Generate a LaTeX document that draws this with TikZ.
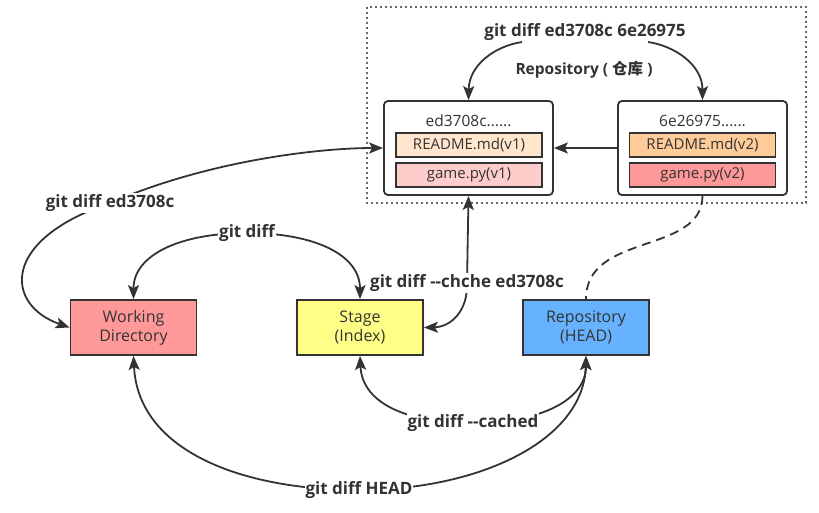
\documentclass[tikz,border=0pt]{standalone}
\usepackage{fontspec}
\setmainfont{Open Sans}
\newfontfamily\cjk{Noto Sans CJK SC}
\usetikzlibrary{arrows.meta}
\definecolor{ink}{HTML}{333333}
\definecolor{frame}{HTML}{666666}
\definecolor{wdfill}{HTML}{FF9999}
\definecolor{stfill}{HTML}{FFFF88}
\definecolor{rpfill}{HTML}{66B2FF}
\definecolor{rdone}{HTML}{FFE6CC}
\definecolor{gmone}{HTML}{FFCCCC}
\definecolor{rdtwo}{HTML}{FFCC99}
\definecolor{gmtwo}{HTML}{FF9999}
\begin{document}
\begin{tikzpicture}[x=1pt,y=-1pt,
  box/.style={draw=ink, line width=1.8pt, minimum width=126pt, minimum height=55pt,
    text=ink, font=\fontsize{16}{19}\selectfont, align=center, inner sep=0pt},
  commit/.style={draw=ink, line width=1.8pt, rounded corners=4pt, fill=white,
    minimum width=169pt, minimum height=94pt, inner sep=0pt},
  file/.style={draw=ink, line width=1.6pt, minimum width=146pt, minimum height=24pt,
    text=ink, font=\fontsize{15}{17}\selectfont, inner sep=0pt},
  ctitle/.style={text=ink, font=\fontsize{15.5}{17}\selectfont, inner sep=0pt},
  lbl/.style={fill=white, text=ink, font=\bfseries\fontsize{17}{19}\selectfont, inner sep=1pt},
  arr/.style={draw=ink, line width=1.8pt, -{Stealth[length=14pt,width=11pt,inset=3pt]}},
  darr/.style={draw=ink, line width=1.8pt, {Stealth[length=14pt,width=11pt,inset=3pt]}-{Stealth[length=14pt,width=11pt,inset=3pt]}},
]
\useasboundingbox (0,0) rectangle (819,512);

% repository frame
\draw[frame, line width=1.8pt, dash pattern=on 1.8pt off 3.2pt] (367,7) rectangle (806,203);

% commits
\node[commit] (c1) at (468.5,148) {};
\node[commit] (c2) at (702.5,148) {};
\node[ctitle] (c1t) at (468.5,121) {ed3708c......};
\node[ctitle] (c2t) at (702.5,121) {6e26975......};
\node[file, fill=rdone] (r1) at (469,145) {README.md(v1)};
\node[file, fill=gmone] (g1) at (469,175) {game.py(v1)};
\node[file, fill=rdtwo] (r2) at (702.5,145) {README.md(v2)};
\node[file, fill=gmtwo] (g2) at (702.5,175) {game.py(v2)};

% main boxes
\node[box, fill=wdfill] (wd) at (133.5,327.5) {Working\\Directory};
\node[box, fill=stfill] (st) at (360,327.5) {Stage\\(Index)};
\node[box, fill=rpfill] (rp) at (586,327.5) {Repository\\(HEAD)};

% label positions
\coordinate (lt) at (585,32);
\coordinate (lt1) at (522,42);
\coordinate (lt2) at (648,42);
\coordinate (la) at (110,203);
\coordinate (lb) at (247,233);
\coordinate (lc) at (467,283);
\coordinate (ld) at (473,423);
\coordinate (le) at (359,490);

% connectors
\draw[arr] (c2.west) -- (c1.east);
\draw[arr] (lt1) .. controls (495,46) and (469,65) .. (c1.north);
\draw[arr] (lt2) .. controls (675,46) and (702.5,65) .. (c2.north);
\draw[darr] (wd.west) .. controls (5,305) and (0,240) .. (la) .. controls (210,160) and (320,148) .. (c1.west);
\draw[darr] (wd.north) .. controls (133.5,255) and (180,233) .. (lb) .. controls (315,233) and (360,255) .. (st.north);
\draw[darr] (st.east) .. controls (450,327) and (468,312) .. (lc) -- (c1.south);
\draw[ink, line width=1.8pt, dash pattern=on 9pt off 6pt] (c2.south) .. controls (702,255) and (586,232) .. (rp.north);
\draw[darr] (st.south) .. controls (362,400) and (400,423) .. (ld) .. controls (540,423) and (586,400) .. (rp.south);
\draw[darr] (wd.south) .. controls (138,450) and (240,490) .. (le) .. controls (480,490) and (584,440) .. (rp.south);

% labels
\node[lbl, fill=none] (tt) at (lt) {git diff ed3708c 6e26975};
\node[lbl, fill=none, font=\bfseries\fontsize{15.5}{17}\selectfont] (rt) at (584,70) {Repository ( {\cjk 仓库} )};
\node[lbl] (ta) at (la) {git diff ed3708c};
\node[lbl] (tb) at (lb) {git diff};
\node[lbl] (tc) at (lc) {git diff -{}-chche ed3708c};
\node[lbl] (td) at (ld) {git diff -{}-cached};
\node[lbl] (te) at (le) {git diff HEAD};
\end{tikzpicture}
\end{document}
